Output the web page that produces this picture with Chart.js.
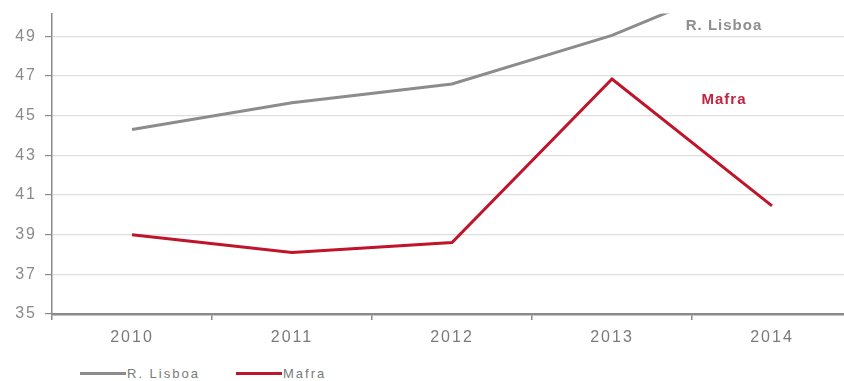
<!DOCTYPE html>
<html>
<head>
<meta charset="utf-8">
<script src="https://cdn.jsdelivr.net/npm/chart.js@4.4.1/dist/chart.umd.min.js"></script>
<style>
    html, body { margin: 0; padding: 0; background: #fff; overflow: hidden; }
    #wrap { position: relative; width: 866px; height: 381px; overflow: hidden; }
    #chartBox { position: absolute; left: 0; top: -4px; width: 866px; height: 354px; }
    #legend { font: 13px "Liberation Sans", Arial, sans-serif; color: #7a7a7a; letter-spacing: 2px; }
    #legend .item { position: absolute; top: 364px; display: flex; align-items: center; height: 18px; }
    #legend .swatch { width: 46px; height: 3px; margin-right: 1px; }
</style>
</head>
<body>
<div id="wrap">
    <div id="chartBox"><canvas id="lineChart"></canvas></div>
    <div id="legend"></div>
</div>
<script>
// Series data
const years = ['2010', '2011', '2012', '2013', '2014'];
const lisboa = [44.3, 45.65, 46.6, 49.05, 52.4];
const mafra = [39.0, 38.1, 38.6, 46.85, 40.45];
const yTicks = [35, 37, 39, 41, 43, 45, 47, 49];

const seriesNames = ['R. Lisboa', 'Mafra'];
const seriesColors = ['#8c8c8c', '#c0142a'];
const legendLeft = [80, 236];

// Wider letter spacing for all axis text
const spacedText = {
    id: 'spacedText',
    beforeDraw(chart) {
        chart.ctx.letterSpacing = '2px';
    }
};

// Inline labels next to the lines
const inlineLabels = {
    id: 'inlineLabels',
    afterDatasetsDraw(chart) {
        const ctx = chart.ctx;
        const x = chart.scales.x;
        const y = chart.scales.y;
        ctx.save();
        ctx.letterSpacing = '1px';
        ctx.font = 'bold 15px "Liberation Sans", Arial, sans-serif';
        ctx.textAlign = 'center';
        ctx.textBaseline = 'middle';
        ctx.fillStyle = '#8e8e8e';
        ctx.fillText(seriesNames[0], x.getPixelForValue(3.7), y.getPixelForValue(49.55));
        ctx.fillStyle = '#c0243e';
        ctx.fillText(seriesNames[1], x.getPixelForValue(3.7), y.getPixelForValue(45.8));
        ctx.restore();
    }
};

const ctx = document.getElementById('lineChart');
new Chart(ctx, {
    type: 'line',
    data: {
        labels: years,
        datasets: [{
            label: seriesNames[0],
            data: lisboa,
            borderColor: seriesColors[0],
            backgroundColor: seriesColors[0],
            borderWidth: 3,
            pointRadius: 0,
            tension: 0
        }, {
            label: seriesNames[1],
            data: mafra,
            borderColor: seriesColors[1],
            backgroundColor: seriesColors[1],
            borderWidth: 3,
            pointRadius: 0,
            tension: 0
        }]
    },
    options: {
        responsive: true,
        maintainAspectRatio: false,
        animation: false,
        layout: { padding: { top: 8, right: 14, left: 0, bottom: 0 } },
        plugins: {
            legend: { display: false },
            tooltip: { enabled: false }
        },
        scales: {
            x: {
                offset: true,
                grid: {
                    offset: true,
                    drawOnChartArea: false,
                    drawTicks: true,
                    tickLength: 6,
                    color: '#8a8a8a',
                    lineWidth: 1.5
                },
                border: { color: '#8a8a8a', width: 2.5 },
                ticks: {
                    color: '#7a7a7a',
                    padding: 8,
                    font: { family: '"Liberation Sans", Arial, sans-serif', size: 16 }
                },
                afterFit: function(scale) { scale.height = 36; }
            },
            y: {
                min: 35,
                max: 50.15,
                afterBuildTicks: function(scale) {
                    scale.ticks = yTicks.map(v => ({ value: v }));
                },
                grid: {
                    color: '#dedede',
                    lineWidth: 1.2,
                    tickLength: 7,
                    tickColor: '#8a8a8a'
                },
                border: { color: '#8a8a8a', width: 1.5 },
                ticks: {
                    color: '#8a8a8a',
                    padding: 8,
                    font: { family: '"Liberation Sans", Arial, sans-serif', size: 16 }
                },
                afterFit: function(scale) { scale.width = 52; }
            }
        }
    },
    plugins: [spacedText, inlineLabels]
});

// Legend below the chart
const legendEl = document.getElementById('legend');
seriesNames.forEach(function(name, i) {
    const item = document.createElement('div');
    item.className = 'item';
    item.style.left = legendLeft[i] + 'px';
    const sw = document.createElement('span');
    sw.className = 'swatch';
    sw.style.background = seriesColors[i];
    const txt = document.createElement('span');
    txt.textContent = name;
    item.appendChild(sw);
    item.appendChild(txt);
    legendEl.appendChild(item);
});
</script>
</body>
</html>
